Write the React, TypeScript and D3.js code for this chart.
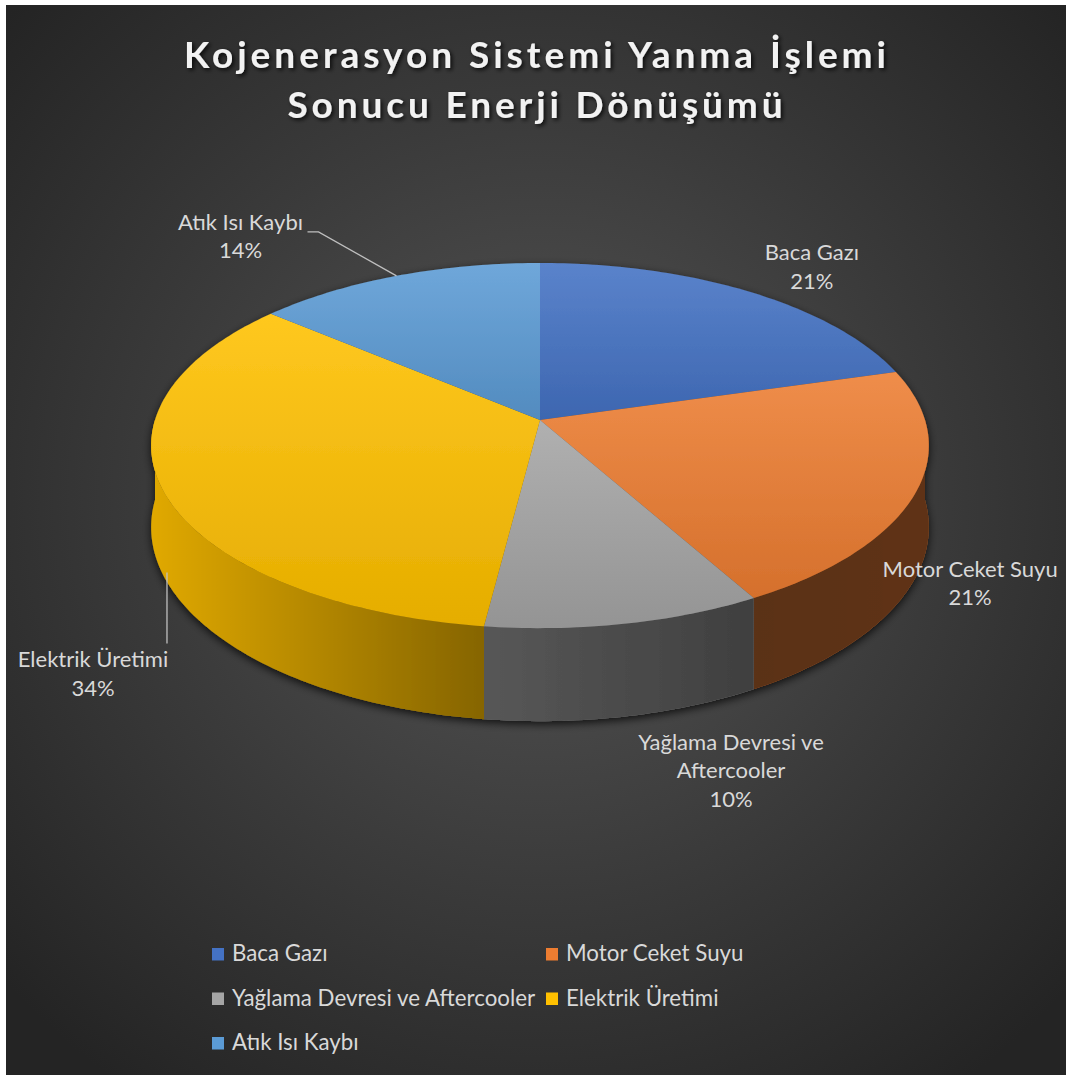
import { useMemo } from 'react'
import * as d3 from 'd3'

const W = 1066
const H = 1075

// chart values (percent shares)
const categories = [
  'Baca Gazı',
  'Motor Ceket Suyu',
  'Yağlama Devresi ve Aftercooler',
  'Elektrik Üretimi',
  'Atık Isı Kaybı',
]
const values = [20.5, 21.4, 10.1, 34.2, 13.8]
const colors = ['#4472C4', '#ED7D31', '#A5A5A5', '#FFC000', '#5B9BD5']
const labelLines = [
  ['Baca Gazı'],
  ['Motor Ceket Suyu'],
  ['Yağlama Devresi ve', 'Aftercooler'],
  ['Elektrik Üretimi'],
  ['Atık Isı Kaybı'],
]
const titleLines = ['Kojenerasyon Sistemi Yanma İşlemi', 'Sonucu Enerji Dönüşümü']

// layout of the 3d pie
const CX = 540
const CY = 420
const RX = 385
const RY = 179
const PERSP = 0.14
const DEPTH = 80
// label offsets from the slice edge at mid angle (first baseline)
const LABEL_OFFSET = [
  [64, -31],
  [54, 85],
  [106, 126],
  [-69, 179],
  [-156, -46],
]
const FONT = 'Lato, "Open Sans", sans-serif'

const proj = (a, r, z) => {
  const u = r * Math.sin(a)
  const v = -r * Math.cos(a)
  const w = 1 - PERSP * v
  return [CX + (RX * u) / w, CY + (RY * v + z) / w]
}

const sample = (a0, a1) => {
  const n = Math.max(2, Math.ceil(((a1 - a0) * 180) / Math.PI))
  return d3.range(n + 1).map((i) => a0 + ((a1 - a0) * i) / n)
}

export default function App() {
  const arcs = useMemo(
    () => d3.pie().sort(null).value((d) => d)(values),
    []
  )
  const line = d3.line().curve(d3.curveLinearClosed)

  const walls = arcs.map((d, i) => {
    const a0 = Math.max(d.startAngle, Math.PI / 2)
    const a1 = Math.min(d.endAngle, (3 * Math.PI) / 2)
    if (a1 <= a0) return null
    const angs = sample(a0, a1)
    const pts = [
      ...angs.map((a) => proj(a, 1, 0)),
      ...angs.slice().reverse().map((a) => proj(a, 1, DEPTH)),
    ]
    const p = line(pts)
    return (
      <g key={i}>
        <path d={p} fill={colors[i]} />
        <path d={p} fill="url(#wallShade)" />
      </g>
    )
  })

  const tops = arcs.map((d, i) => {
    const pts = [[CX, CY], ...sample(d.startAngle, d.endAngle).map((a) => proj(a, 1, 0))]
    return <path key={i} d={line(pts)} fill={`url(#top-${i})`} />
  })

  const labels = arcs.map((d, i) => {
    const mid = (d.startAngle + d.endAngle) / 2
    const [ex, ey] = proj(mid, 1, 0)
    const x = ex + LABEL_OFFSET[i][0]
    const y = ey + LABEL_OFFSET[i][1]
    const lines = [...labelLines[i], `${Math.round(values[i])}%`]
    return (
      <text
        key={i}
        x={x}
        y={y}
        textAnchor="middle"
        fill="#d9d9d9"
        style={{ fontSize: '22px', fontFamily: FONT }}
      >
        {lines.map((t, j) => (
          <tspan key={j} x={x} dy={j === 0 ? 0 : 28.5}>
            {t}
          </tspan>
        ))}
      </text>
    )
  })

  // leader lines for the two labels set away from the pie
  const atik = arcs[4]
  const atikMid = (atik.startAngle + atik.endAngle) / 2
  const [ax, ay] = proj(atikMid, 1, 0)
  const atikLbl = [ax + LABEL_OFFSET[4][0], ay + LABEL_OFFSET[4][1]]
  const elek = arcs[3]
  const elekMid = (elek.startAngle + elek.endAngle) / 2
  const [bx, by] = proj(elekMid, 1, DEPTH)
  const elekLbl = [bx + LABEL_OFFSET[3][0], by - DEPTH / 0.95 + LABEL_OFFSET[3][1]]

  const legend = categories.map((c, i) => {
    const col = i % 2
    const row = Math.floor(i / 2)
    const x = 212 + col * 334
    const y = 954 + row * 44.5
    return (
      <g key={i} transform={`translate(${x},${y})`}>
        <rect x={0} y={-6} width={12} height={12.5} fill={colors[i]} />
        <text x={20} y={7} fill="#d9d9d9" style={{ fontSize: '22.3px', fontFamily: FONT }}>
          {c}
        </text>
      </g>
    )
  })

  return (
    <svg
      width={W}
      height={H}
      style={{ position: 'absolute', left: 0, top: 0 }}
    >
      <defs>
        <radialGradient id="bg" cx={540} cy={500} r={720} gradientUnits="userSpaceOnUse">
          <stop offset="0" stopColor="#565656" />
          <stop offset="0.55" stopColor="#3a3a3a" />
          <stop offset="1" stopColor="#242424" />
        </radialGradient>
        <linearGradient id="wallShade" x1={150} x2={930} y1={0} y2={0} gradientUnits="userSpaceOnUse">
          <stop offset="0" stopColor="#000" stopOpacity={0.12} />
          <stop offset="0.42" stopColor="#000" stopOpacity={0.47} />
          <stop offset="0.78" stopColor="#000" stopOpacity={0.62} />
          <stop offset="1" stopColor="#000" stopOpacity={0.6} />
        </linearGradient>
        {colors.map((c, i) => (
          <linearGradient key={i} id={`top-${i}`} x1={0} y1={0} x2={0} y2={1}>
            <stop offset="0" stopColor={d3.interpolateRgb(c, '#ffffff')(0.12)} />
            <stop offset="1" stopColor={d3.color(c).darker(0.3).toString()} />
          </linearGradient>
        ))}
        <filter id="pieShadow" x="-10%" y="-10%" width="120%" height="130%">
          <feDropShadow dx={0} dy={3} stdDeviation={4} floodColor="#000" floodOpacity={0.75} />
        </filter>
        <filter id="titleShadow" x="-5%" y="-20%" width="110%" height="150%">
          <feDropShadow dx={2} dy={2} stdDeviation={2} floodColor="#000" floodOpacity={0.8} />
        </filter>
      </defs>
      <rect width={W} height={H} fill="#ffffff" />
      <rect x={6} y={5} width={W - 6} height={H - 5} fill="url(#bg)" />

      <g filter="url(#titleShadow)">
        {titleLines.map((t, i) => (
          <text
            key={i}
            x={535}
            y={68 + i * 50}
            textAnchor="middle"
            fill="#f2f2f2"
            textLength={i === 0 ? 702 : 495}
            lengthAdjust="spacing"
            style={{ fontSize: '37px', fontWeight: 'bold', fontFamily: FONT }}
          >
            {t}
          </text>
        ))}
      </g>

      <g filter="url(#pieShadow)">
        {walls}
        {tops}
      </g>

      <g stroke="#bfbfbf" strokeWidth={1.3} fill="none">
        <polyline
          points={[
            [atikLbl[0] + 67, atikLbl[1] + 2],
            [atikLbl[0] + 78, atikLbl[1] + 2],
            [ax, ay],
          ].join(' ')}
        />
        <line x1={bx + 5} y1={by} x2={bx + 5} y2={elekLbl[1] - 24} />
      </g>

      {labels}
      {legend}
    </svg>
  )
}
